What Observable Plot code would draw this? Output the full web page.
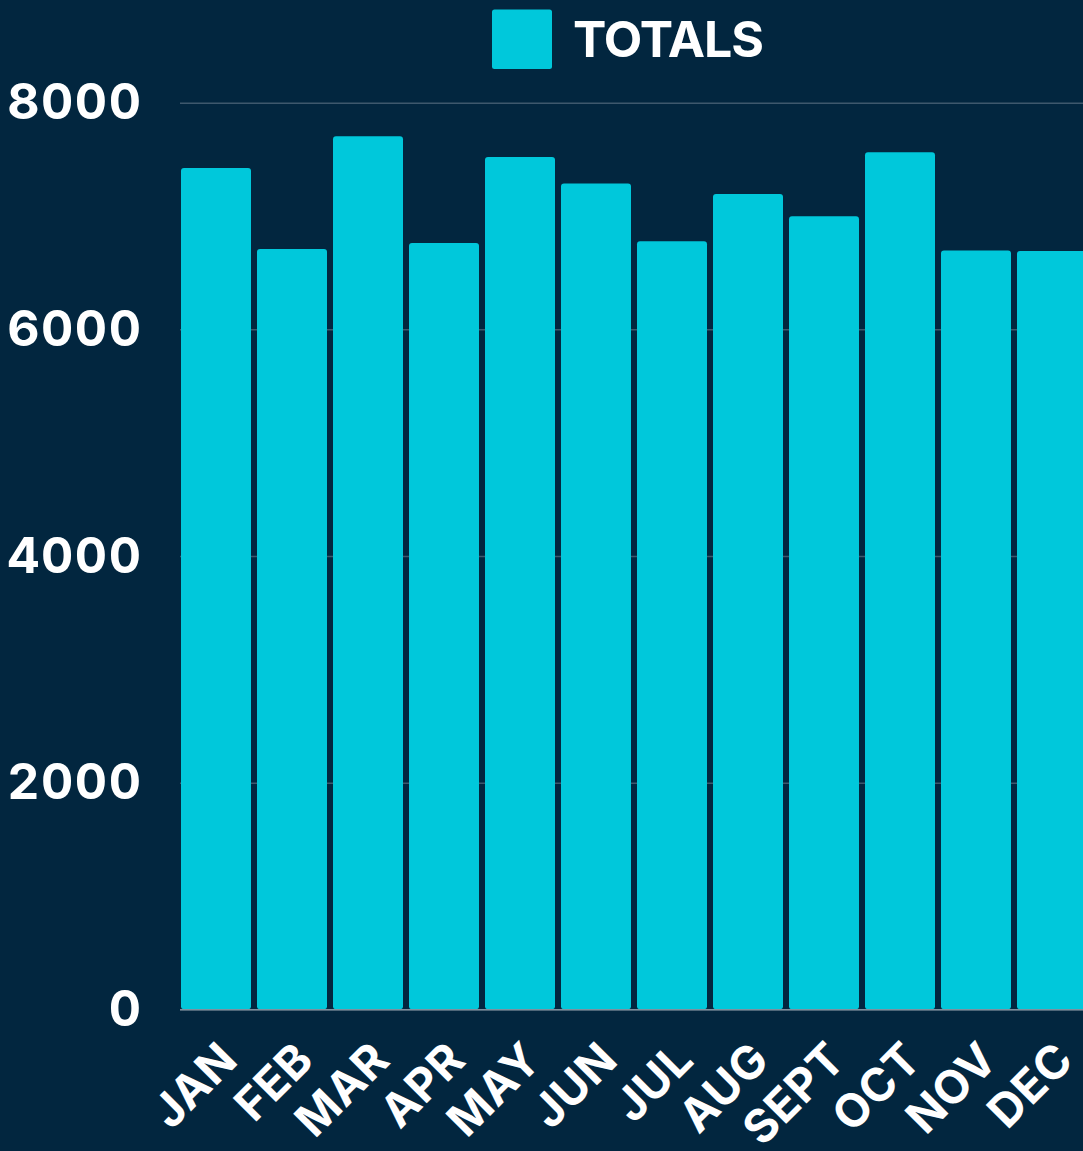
<!DOCTYPE html>
<html>
<head>
<meta charset="utf-8">
<script src="https://cdn.jsdelivr.net/npm/d3@7"></script>
<script src="https://cdn.jsdelivr.net/npm/@observablehq/plot@0.6"></script>
<style>
html, body { margin: 0; padding: 0; background: #02263f; overflow: hidden; }
body { width: 1083px; height: 1151px; position: relative; font-family: Inter, "Open Sans", sans-serif; }
#legend { display: block; position: absolute; left: 0; top: 0; }
#chart svg { display: block; }
#chart g[aria-label="y-axis tick label"] text { letter-spacing: 1.5px; }
#chart g[aria-label="x-axis tick label"] text { letter-spacing: 0.6px; }
</style>
</head>
<body>
<div id="chart"></div>
<svg id="legend" width="1083" height="80"></svg>
<script>
const months = ["JAN", "FEB", "MAR", "APR", "MAY", "JUN", "JUL", "AUG", "SEPT", "OCT", "NOV", "DEC"];
const totals = [7424, 6710, 7703, 6762, 7521, 7288, 6777, 7195, 6997, 7562, 6695, 6692];
const yTicks = [0, 2000, 4000, 6000, 8000];
const seriesNames = ["TOTALS"];

const BAR = "#00c8db";

// Legend
const leg = d3.select("#legend");
leg.append("rect").attr("x", 492).attr("y", 9.5).attr("width", 60).attr("height", 59.5)
  .attr("rx", 2.5).attr("fill", BAR);
leg.append("text").attr("x", 573).attr("y", 56.7)
  .attr("fill", "white").attr("font-family", "Inter, 'Open Sans', sans-serif")
  .attr("font-size", 50).attr("font-weight", 700).attr("letter-spacing", -1)
  .text(seriesNames[0]);

const data = months.map((m, i) => ({month: m, total: totals[i]}));

const chart = Plot.plot({
  width: 1083,
  height: 1151,
  marginTop: 102.7,
  marginBottom: 141.7,
  marginLeft: 180,
  marginRight: 0,
  style: {background: "transparent", color: "white", fontFamily: "Inter, 'Open Sans', sans-serif", overflow: "hidden"},
  x: {domain: months, range: [180, 1088], paddingInner: 0.08, paddingOuter: 0, label: null},
  y: {domain: [0, 8000], label: null},
  marks: [
    Plot.gridY(yTicks, {stroke: "#3e586d", strokeOpacity: 1, strokeWidth: 1.5}),
    Plot.barY(data, {x: "month", y: "total", fill: BAR, rx: 3}),
    Plot.ruleY([0], {stroke: "#7f909e", strokeWidth: 1.5}),
    Plot.axisY(yTicks, {tickSize: 0, tickPadding: 38, tickFormat: d3.format("d"), fontSize: 50, fontWeight: 700, fill: "white", label: null}),
    Plot.axisX({tickRotate: -45, tickSize: 0, tickPadding: 0, fontSize: 46, fontWeight: 700, fill: "white", label: null, dx: 13, dy: 42})
  ]
});
document.getElementById("chart").appendChild(chart);
</script>
</body>
</html>
